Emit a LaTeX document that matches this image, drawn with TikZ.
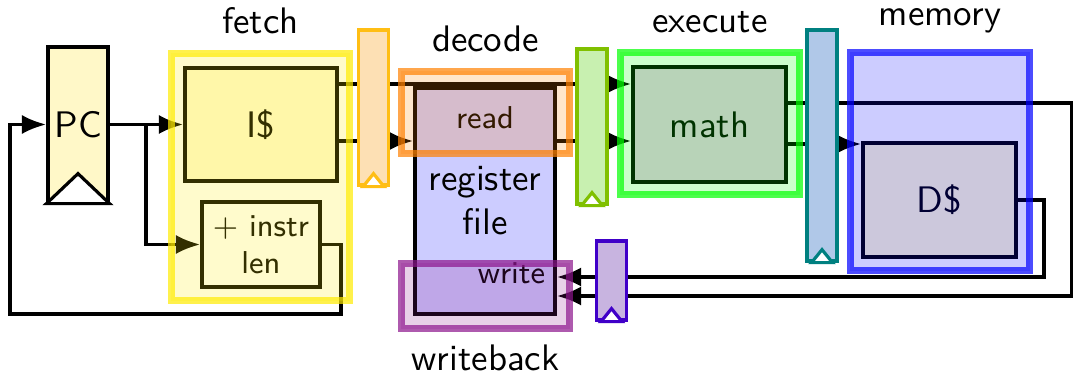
\documentclass[tikz,border=0pt]{standalone}
\usetikzlibrary{positioning,calc,arrows.meta}

\definecolor{pcfill}{RGB}{255,248,200}
\definecolor{cachefill}{RGB}{255,250,212}
\definecolor{mathfill}{RGB}{230,200,230}
\definecolor{fdline}{RGB}{255,190,20}
\definecolor{fdfill}{RGB}{253,224,180}
\definecolor{deline}{RGB}{128,192,0}
\definecolor{defill}{RGB}{200,240,176}
\definecolor{emline}{RGB}{0,128,128}
\definecolor{emfill}{RGB}{176,200,232}
\definecolor{mwline}{RGB}{64,0,200}
\definecolor{mwfill}{RGB}{200,180,224}
\definecolor{fetchc}{RGB}{255,235,0}
\definecolor{decodec}{RGB}{255,128,0}
\definecolor{executec}{RGB}{0,255,0}
\definecolor{memoryc}{RGB}{0,0,255}
\definecolor{writebackc}{RGB}{140,20,140}

\tikzset{
  unit/.style={draw=black, line width=0.9pt, inner sep=0pt, align=center},
  wire/.style={line width=1.1pt},
  arr/.style={-{Latex[length=7pt,width=5.5pt]}},
  pipereg/.style={line width=0.9pt, minimum width=0.3cm, inner sep=0pt},
  stage/.style={line width=2pt, draw opacity=0.7, fill opacity=0.2, inner sep=0pt},
  smalltext/.style={font=\sffamily\fontsize{9}{10.5}\selectfont, align=center},
}

\begin{document}
\begin{tikzpicture}[x=0.01cm, y=-0.01cm, font=\sffamily\fontsize{10.5}{12.5}\selectfont]
    \useasboundingbox (0,0) rectangle (1073,376);

    % units
    \node[unit, fill=pcfill, minimum width=0.6cm, minimum height=1.55cm] (pc) at (78,124.5) {PC};
    \draw[line width=0.9pt, fill=white] (pc.south west) -- ($(pc.south)+(0,-30)$) -- (pc.south east) -- cycle;

    \node[unit, fill=cachefill, minimum width=1.52cm, minimum height=1.13cm] (icache) at (261,124.5) {I\$};
    \node[unit, smalltext, fill=white, minimum width=1.18cm, minimum height=0.85cm] (instrlen) at (261,244.5) {$+$ instr\\len};

    \node[unit, fill=blue!20, minimum width=1.4cm, minimum height=2.26cm] (regfile) at (485,201) {register\\file};
    \node[smalltext] (read) at (485,118) {read};
    \node[smalltext] (write) at (511.5,273) {write};

    \node[unit, fill=mathfill, minimum width=1.53cm, minimum height=1.15cm] (math) at (709.5,124.5) {math};
    \node[unit, fill=cachefill, minimum width=1.53cm, minimum height=1.14cm] (dcache) at (939.5,200) {D\$};

    % wires
    \coordinate (split) at (146,124.5);
    \coordinate (loopr) at (341,314);
    \coordinate (loopl) at (10,314);
    \coordinate (wbout) at (1072,296);
    \coordinate (dout) at (1044,277);

    \draw[wire,arr] (pc.east) -- (icache.west);
    \draw[wire,arr] (split) |- (instrlen.west);
    \draw[wire,arr] (instrlen.east) -| (loopr) -- (loopl) |- (pc.west);

    \draw[wire] (icache.east |- 0,84) -- (576,84);
    \draw[wire,arr] (icache.east |- 0,141) -- (regfile.west |- 0,141);
    \draw[wire] (regfile.east |- 0,141) -- (576,141);
    \draw[wire,arr] (608,84) -- (math.west |- 0,84);
    \draw[wire,arr] (608,141) -- (math.west |- 0,141);

    \draw[wire,arr] (math.east |- 0,103) -| (wbout) -- (regfile.east |- wbout);
    \draw[wire,arr] (math.east |- 0,144) -- (dcache.west |- 0,144);
    \draw[wire,arr] (dcache.east) -| (dout) -- (regfile.east |- dout);

    % pipeline registers
    \node[pipereg, draw=fdline, fill=fdfill, minimum height=1.55cm] (fd) at (373.5,107.5) {};
    \node[pipereg, draw=deline, fill=defill, minimum height=1.55cm] (de) at (592,126.5) {};
    \node[pipereg, draw=emline, fill=emfill, minimum height=2.31cm] (em) at (822,145.5) {};
    \node[pipereg, draw=mwline, fill=mwfill, minimum height=0.79cm] (mw) at (611.5,280.5) {};
    \foreach \reg/\col in {fd/fdline, de/deline, em/emline, mw/mwline}
        \draw[line width=0.9pt, draw=\col, fill=white] ($(\reg.south)+(-10.5,0)$) -- ($(\reg.south)+(0,-13)$) -- ($(\reg.south)+(10.5,0)$) -- cycle;

    % stages
    \node[stage, draw=fetchc, fill=fetchc, minimum width=1.78cm, minimum height=2.47cm] (fetch) at (260.5,177) {};
    \node[stage, draw=decodec, fill=decodec, minimum width=1.68cm, minimum height=0.82cm] (decode) at (485.5,112.5) {};
    \node[stage, draw=writebackc, fill=writebackc, minimum width=1.68cm, minimum height=0.65cm] (writeback) at (485.5,296) {};
    \node[stage, draw=executec, fill=executec, minimum width=1.79cm, minimum height=1.42cm] (execute) at (710,123.5) {};
    \node[stage, draw=memoryc, fill=memoryc, minimum width=1.79cm, minimum height=2.18cm] (memory) at (940,161.5) {};

    \node[above=1pt of fetch] (fetchlbl) {fetch};
    \node[above=1pt of decode] (decodelbl) {decode};
    \node[above=1pt of execute] (executelbl) {execute};
    \node[above=1pt of memory] (memorylbl) {memory};
    \node[below=0pt of writeback] (writebacklbl) {writeback};

\end{tikzpicture}
\end{document}
